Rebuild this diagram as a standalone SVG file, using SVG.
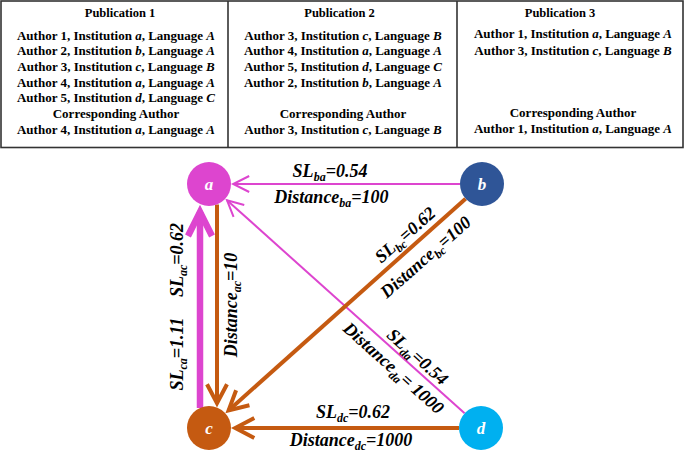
<svg xmlns="http://www.w3.org/2000/svg" width="685" height="452" viewBox="0 0 685 452">
<style>
.t{font-family:"Liberation Serif","Times New Roman",serif;font-weight:bold;font-size:13px;text-anchor:middle;fill:#000}
.h{font-size:12.5px}
.i{font-style:italic}
.lab{font-family:"Liberation Serif","Times New Roman",serif;font-weight:bold;font-style:italic;font-size:18px;text-anchor:middle;fill:#000}
.sub{font-size:12px}
.nl{font-family:"Liberation Serif","Times New Roman",serif;font-weight:bold;font-style:italic;font-size:17px;text-anchor:middle;fill:#fff}
.grid{fill:none;stroke:#333;stroke-width:1.6}
.mThin{stroke:#DD45CF;stroke-width:2;fill:none}
.mThick{stroke:#DD45CF;stroke-width:6.5;fill:none}
.oLine{stroke:#C55A11;stroke-width:4;fill:none}
</style>
<defs>
<marker id="arrM" markerUnits="userSpaceOnUse" orient="auto" refX="0" refY="0" markerWidth="40" markerHeight="40" overflow="visible">
<path d="M-16,-8 L0,0 L-16,8" fill="none" stroke="#DD45CF" stroke-width="2"/>
</marker>
<marker id="arrO" markerUnits="userSpaceOnUse" orient="auto" refX="0" refY="0" markerWidth="40" markerHeight="40" overflow="visible">
<path d="M-19,-10 L0,0 L-19,10" fill="none" stroke="#C55A11" stroke-width="4"/>
</marker>
<marker id="arrMT" markerUnits="userSpaceOnUse" orient="auto" refX="0" refY="0" markerWidth="60" markerHeight="60" overflow="visible">
<path d="M-24,-12 L0,0 L-24,12" fill="none" stroke="#DD45CF" stroke-width="6.5"/>
</marker>
</defs>
<rect width="685" height="452" fill="#fff"/>

<g id="table">
<rect class="grid" x="1" y="1" width="682" height="146.5"/>
<line class="grid" x1="228" y1="1" x2="228" y2="147.5"/>
<line class="grid" x1="457" y1="1" x2="457" y2="147.5"/>
</g>

<g id="pub1">
<text class="t h" x="120" y="16.5">Publication 1</text>
<text class="t" x="116" y="39.5">Author 1, Institution <tspan class="i">a</tspan>, Language <tspan class="i">A</tspan></text>
<text class="t" x="116" y="55.2">Author 2, Institution <tspan class="i">b</tspan>, Language <tspan class="i">A</tspan></text>
<text class="t" x="116" y="70.9">Author 3, Institution <tspan class="i">c</tspan>, Language <tspan class="i">B</tspan></text>
<text class="t" x="116" y="86.6">Author 4, Institution <tspan class="i">a</tspan>, Language <tspan class="i">A</tspan></text>
<text class="t" x="116" y="102.3">Author 5, Institution <tspan class="i">d</tspan>, Language <tspan class="i">C</tspan></text>
<text class="t" x="116" y="118">Corresponding Author</text>
<text class="t" x="116" y="133.7">Author 4, Institution <tspan class="i">a</tspan>, Language <tspan class="i">A</tspan></text>
</g>

<g id="pub2">
<text class="t h" x="339.5" y="16.5">Publication 2</text>
<text class="t" x="343" y="39.5">Author 3, Institution <tspan class="i">c</tspan>, Language <tspan class="i">B</tspan></text>
<text class="t" x="343" y="55.2">Author 4, Institution <tspan class="i">a</tspan>, Language <tspan class="i">A</tspan></text>
<text class="t" x="343" y="70.9">Author 5, Institution <tspan class="i">d</tspan>, Language <tspan class="i">C</tspan></text>
<text class="t" x="343" y="86.6">Author 2, Institution <tspan class="i">b</tspan>, Language <tspan class="i">A</tspan></text>
<text class="t" x="343" y="118">Corresponding Author</text>
<text class="t" x="343" y="133.7">Author 3, Institution <tspan class="i">c</tspan>, Language <tspan class="i">B</tspan></text>
</g>

<g id="pub3">
<text class="t h" x="560" y="16.5">Publication 3</text>
<text class="t" x="573" y="38">Author 1, Institution <tspan class="i">a</tspan>, Language <tspan class="i">A</tspan></text>
<text class="t" x="573" y="54.5">Author 3, Institution <tspan class="i">c</tspan>, Language <tspan class="i">B</tspan></text>
<text class="t" x="573" y="117">Corresponding Author</text>
<text class="t" x="573" y="132.5">Author 1, Institution <tspan class="i">a</tspan>, Language <tspan class="i">A</tspan></text>
</g>

<g id="connectors">
<line class="mThin" x1="460" y1="184" x2="233.2" y2="184" marker-end="url(#arrM)"/>
<line class="mThin" x1="464.6" y1="413.3" x2="227" y2="200.2" marker-end="url(#arrM)"/>
<line class="mThick" x1="200" y1="408" x2="200" y2="212" marker-end="url(#arrMT)"/>
<line class="oLine" x1="217" y1="204.5" x2="217" y2="403.2" marker-end="url(#arrO)"/>
<line class="oLine" x1="465.6" y1="198.7" x2="228.6" y2="410.4" marker-end="url(#arrO)"/>
<line class="oLine" x1="459" y1="428" x2="235.3" y2="428" marker-end="url(#arrO)"/>
</g>

<g id="edge-labels">
<text class="lab" x="330" y="177">SL<tspan class="sub" dy="4">ba</tspan><tspan dy="-4">=0.54</tspan></text>
<text class="lab" x="331.5" y="203">Distance<tspan class="sub" dy="4">ba</tspan><tspan dy="-4">=100</tspan></text>
<text class="lab" transform="translate(409,239.3) rotate(-41.2)">SL<tspan class="sub" dy="4">bc</tspan><tspan dy="-4">=0.62</tspan></text>
<text class="lab" transform="translate(429.6,261.5) rotate(-41.2)">Distance<tspan class="sub" dy="4">bc</tspan><tspan dy="-4">=100</tspan></text>
<text class="lab" transform="translate(183,260) rotate(-90)">SL<tspan class="sub" dy="4">ac</tspan><tspan dy="-4">=0.62</tspan></text>
<text class="lab" transform="translate(183,354) rotate(-90)">SL<tspan class="sub" dy="4">ca</tspan><tspan dy="-4">=1.11</tspan></text>
<text class="lab" transform="translate(237,305) rotate(-90)">Distance<tspan class="sub" dy="4">ac</tspan><tspan dy="-4">=10</tspan></text>
<text class="lab" transform="translate(413.5,361.2) rotate(41.8)">SL<tspan class="sub" dy="4">da</tspan><tspan dy="-4">=0.54</tspan></text>
<text class="lab" transform="translate(389.5,372.5) rotate(41.8)">Distance<tspan class="sub" dy="4">da</tspan><tspan dy="-4">= 1000</tspan></text>
<text class="lab" x="353" y="418">SL<tspan class="sub" dy="4">dc</tspan><tspan dy="-4">=0.62</tspan></text>
<text class="lab" x="351" y="446">Distance<tspan class="sub" dy="4">dc</tspan><tspan dy="-4">=1000</tspan></text>
</g>

<g id="node-a">
<circle cx="209" cy="184" r="22" fill="#DD45CF"/>
<text class="nl" x="209" y="190">a</text>
</g>
<g id="node-b">
<circle cx="482" cy="184" r="22" fill="#2F5597"/>
<text class="nl" x="482" y="190">b</text>
</g>
<g id="node-c">
<circle cx="209" cy="428" r="22" fill="#C55A11"/>
<text class="nl" x="209" y="434">c</text>
</g>
<g id="node-d">
<circle cx="481" cy="428" r="22" fill="#00B0F0"/>
<text class="nl" x="481" y="434">d</text>
</g>
</svg>
